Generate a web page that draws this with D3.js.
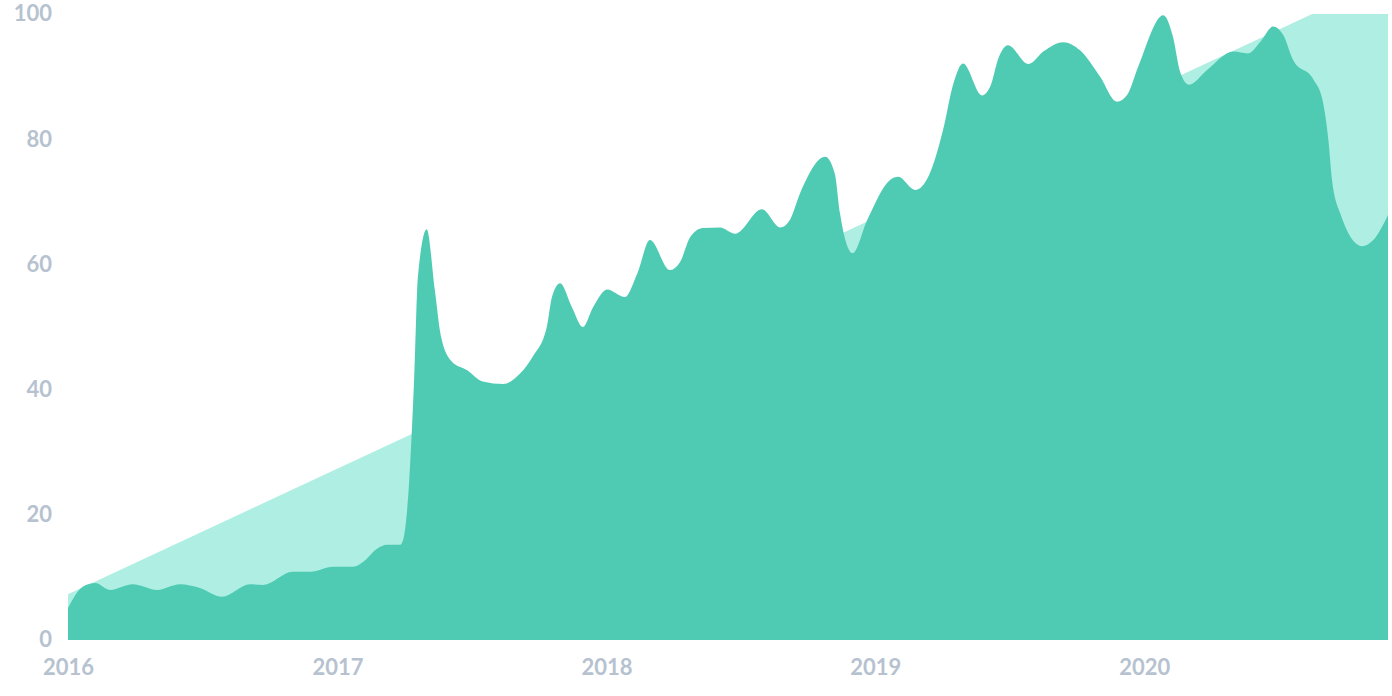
<!DOCTYPE html>
<html>
<head>
<meta charset="utf-8">
<script src="https://cdn.jsdelivr.net/npm/d3@7"></script>
<style>
  html, body { margin: 0; padding: 0; background: #fff; }
  svg text { font-family: Lato, "Open Sans", sans-serif; font-weight: 700; fill: #b6c2cf; font-size: 22px; }
</style>
</head>
<body>
<svg id="chart" width="1392" height="696"></svg>
<script>
const actualDates = [
  "2016-01-01","2016-01-21","2016-02-07","2016-02-27","2016-03-29","2016-05-01","2016-06-01","2016-06-28",
  "2016-07-28","2016-09-04","2016-09-22","2016-11-01","2016-11-25","2016-12-26","2017-01-22","2017-02-05",
  "2017-02-24","2017-03-09","2017-03-27","2017-03-31","2017-04-08","2017-04-15","2017-04-20","2017-05-02",
  "2017-05-13","2017-05-21","2017-06-05","2017-06-26","2017-07-17","2017-08-14","2017-09-06","2017-09-23",
  "2017-10-12","2017-10-19","2017-10-30","2017-11-15","2017-11-30","2017-12-14","2018-01-02","2018-01-26",
  "2018-02-12","2018-03-01","2018-03-28","2018-04-11","2018-04-25","2018-05-12","2018-06-04","2018-06-25","2018-07-31",
  "2018-08-25","2018-09-07","2018-09-21","2018-10-25","2018-11-07","2018-11-14","2018-12-01","2018-12-21",
  "2019-01-21","2019-02-01","2019-02-24","2019-03-15","2019-04-03","2019-04-17","2019-04-30","2019-05-26",
  "2019-06-06","2019-06-17","2019-06-30","2019-07-28","2019-08-17","2019-09-13","2019-10-06","2019-11-02",
  "2019-11-25","2019-12-09","2019-12-24","2020-01-27","2020-02-09","2020-02-19","2020-03-02","2020-03-26",
  "2020-05-01","2020-05-21","2020-06-07","2020-06-24","2020-07-08","2020-07-21","2020-08-18","2020-08-30",
  "2020-09-07","2020-09-12","2020-09-23","2020-10-23","2020-11-07","2020-11-27"
];
const actualValues = [
  5.1, 8.5, 9.1, 8.0, 8.9, 8.0, 8.9, 8.3,
  6.9, 8.9, 8.8, 10.9, 10.9, 11.7, 11.7, 12.5,
  14.6, 15.2, 15.2, 16.0, 25.0, 42.0, 58.0, 65.6,
  55.9, 48.7, 44.5, 43.1, 41.3, 40.9, 42.6, 45.3,
  50.0, 54.8, 57.0, 53.2, 50.0, 53.2, 56.0, 54.8,
  58.6, 63.9, 59.1, 60.4, 64.4, 65.8, 65.9, 64.9, 68.8,
  65.9, 67.1, 71.4, 77.2, 74.5, 68.2, 61.8, 67.1,
  73.5, 74.0, 71.9, 74.3, 81.5, 88.9, 92.1, 87.0,
  88.4, 92.9, 95.0, 92.0, 94.0, 95.5, 94.2, 90.0,
  86.0, 87.1, 91.6, 99.8, 96.4, 90.7, 88.7, 91.0,
  94.0, 93.7, 95.6, 98.0, 96.6, 92.7, 89.5, 86.3,
  79.9, 73.5, 68.2, 62.9, 63.9, 67.9
];

// target series: straight ramp, capped at 100
const targetDates = ["2016-01-01", "2020-08-16", "2020-11-27"];
const targetValues = [7.3, 100, 100];

const yTicks = [0, 20, 40, 60, 80, 100];
const xTickYears = ["2016", "2017", "2018", "2019", "2020"];

const parse = d3.timeParse("%Y-%m-%d");
const actual = actualDates.map((d, i) => ({ date: parse(d), value: actualValues[i] }));
const target = targetDates.map((d, i) => ({ date: parse(d), value: targetValues[i] }));

const svg = d3.select("#chart");
const margin = { left: 68, right: 1388, top: 14, bottom: 640 };

const x = d3.scaleTime()
  .domain([parse("2016-01-01"), parse("2020-11-27")])
  .range([margin.left, margin.right]);

const y = d3.scaleLinear()
  .domain([0, 100])
  .range([margin.bottom, margin.top]);

// light target area
svg.append("path")
  .datum(target)
  .attr("fill", "#afeee3")
  .attr("d", d3.area()
    .x(d => x(d.date))
    .y0(y(0))
    .y1(d => y(d.value)));

// actual area on top
svg.append("path")
  .datum(actual)
  .attr("fill", "#4fcbb3")
  .attr("d", d3.area()
    .curve(d3.curveMonotoneX)
    .x(d => x(d.date))
    .y0(y(0))
    .y1(d => y(d.value)));

// y axis labels
const yAxis = svg.append("g")
  .attr("transform", `translate(${margin.left - 16},0)`)
  .call(d3.axisLeft(y).tickValues(yTicks).tickSize(0).tickPadding(0));
yAxis.select(".domain").remove();
yAxis.selectAll("text")
  .attr("fill", null)
  .attr("font-size", null)
  .attr("font-family", null)
  .attr("dy", "0.36em")
  .attr("y", -1);

// x axis labels
const xAxis = svg.append("g")
  .attr("transform", `translate(0,${margin.bottom + 19})`)
  .call(d3.axisBottom(x)
    .tickValues(xTickYears.map(yr => parse(yr + "-01-01")))
    .tickFormat(d3.timeFormat("%Y"))
    .tickSize(0).tickPadding(0));
xAxis.select(".domain").remove();
xAxis.selectAll("text")
  .attr("fill", null)
  .attr("font-size", null)
  .attr("font-family", null)
  .attr("dy", "0.71em")
  .attr("y", 0);
</script>
</body>
</html>
